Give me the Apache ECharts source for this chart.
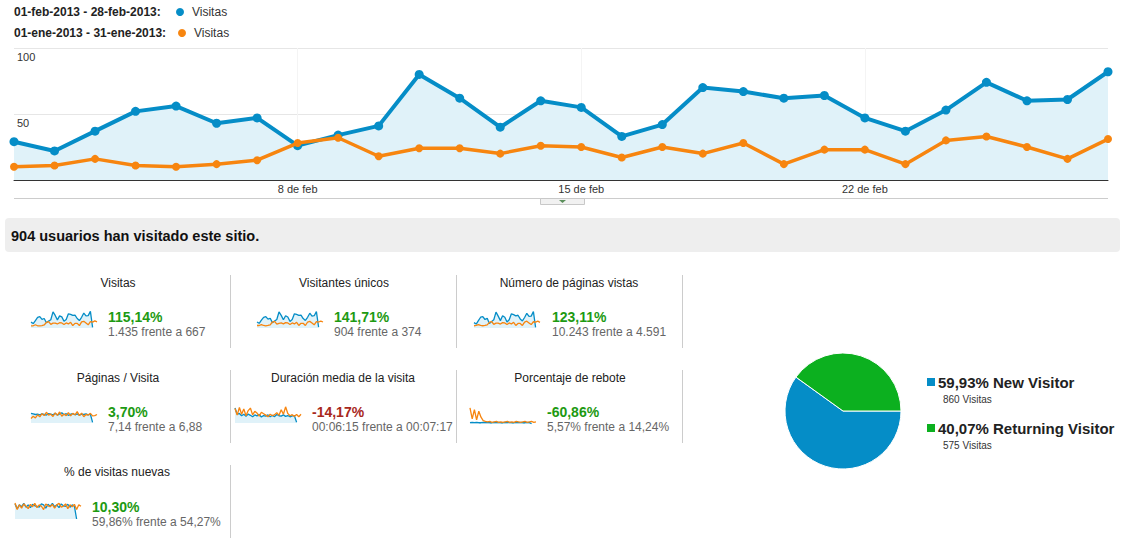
<!DOCTYPE html>
<html><head><meta charset="utf-8">
<script src="https://cdn.jsdelivr.net/npm/echarts@6/dist/echarts.min.js"></script>
<style>html,body{margin:0;padding:0;background:#fff}#c{width:1125px;height:559px}</style>
</head><body><div id="c"></div>
<script>
// ---------- DATA ----------
const days = ['1 de feb','2 de feb','3 de feb','4 de feb','5 de feb','6 de feb','7 de feb','8 de feb','9 de feb','10 de feb','11 de feb','12 de feb','13 de feb','14 de feb','15 de feb','16 de feb','17 de feb','18 de feb','19 de feb','20 de feb','21 de feb','22 de feb','23 de feb','24 de feb','25 de feb','26 de feb','27 de feb','28 de feb'];
const tickDays = ['8 de feb','15 de feb','22 de feb'];
const febVisits = [29,22,37,52,56,43,47,26,34,41,80,62,40,60,55,33,42,70,67,62,64,47,37,53,74,60,61,82];
const janVisits = [10,11,16,11,10,12,15,28,32,18,24,24,20,26,25,17,25,20,28,12,23,23,12,30,33,25,16,31];
const yTicks = [0,50,100];

const legendFeb = '01-feb-2013 - 28-feb-2013:';
const legendJan = '01-ene-2013 - 31-ene-2013:';
const seriesName = 'Visitas';
const summaryText = '904 usuarios han visitado este sitio.';

const sparkDays = ['1','2','3','4','5','6','7','8','9','10','11','12','13','14','15','16','17','18','19','20','21','22','23','24','25','26','27','28','29','30','31'];
const sparkVisitasFeb = [29,22,37,52,56,43,47,26,34,41,80,62,40,60,55,33,42,70,67,62,64,47,37,53,74,60,61,82,3];
const sparkVisitasJan = [10,11,16,11,10,12,15,28,32,18,24,24,20,26,25,17,25,20,28,12,23,23,12,30,33,25,16,31,29,35,30];
const sparkUnicosFeb = [19,15,25,34,36,28,31,17,22,27,51,40,26,39,35,21,27,45,43,40,41,30,24,34,47,38,39,52,3];
const sparkUnicosJan = [8,8,11,8,7,8,10,19,21,12,15,16,13,17,16,11,16,13,18,8,15,15,8,19,21,16,10,20,19,22,19];
const sparkPaginasFeb = [190,140,260,380,400,300,340,160,230,290,560,420,260,430,380,210,290,500,470,430,450,320,250,370,520,410,420,580,20];
const sparkPaginasJan = [80,90,120,90,80,90,110,200,230,130,170,170,140,190,180,120,180,140,200,90,160,160,90,210,240,180,120,220,210,240,200];
const sparkPagVisFeb = [7.4,7.2,7.0,7.1,6.9,7.2,7.0,6.8,7.3,7.1,6.9,7.4,6.8,7.2,7.6,6.9,7.3,6.7,7.1,7.3,6.9,7.2,6.8,7.1,7.0,7.2,6.9,7.1,4.2];
const sparkPagVisJan = [5.6,6.4,5.8,6.9,6.2,7.3,6.6,7.8,6.8,7.1,6.3,7.6,6.7,7.9,6.4,7.2,6.6,7.7,6.5,7.4,6.9,8.0,6.6,7.5,6.2,7.0,6.8,7.4,6.5,6.6,7.0];
const sparkDuracionFeb = [720,420,460,350,420,330,430,370,300,390,340,420,290,360,330,390,300,370,310,410,350,330,390,320,360,300,340,350,40];
const sparkDuracionJan = [700,380,750,420,680,350,600,720,390,560,480,330,520,450,380,300,420,350,400,500,370,640,420,780,460,350,400,320,410,300,420];
const sparkReboteFeb = [3,4,3,4,3,3,4,3,4,3,3,4,3,4,3,3,4,3,4,3,3,4,3,4,3,3,4,3,1];
const sparkReboteJan = [38,12,34,10,30,16,8,6,5,6,4,5,6,4,5,4,5,6,4,5,4,6,5,4,5,6,4,5,6,4,5];
const sparkNuevasFeb = [62,52,60,56,63,55,60,54,61,58,57,55,62,60,53,61,57,63,56,60,54,62,58,57,61,55,60,57,30];
const sparkNuevasJan = [64,50,60,53,62,57,52,61,56,63,54,60,57,50,62,58,56,61,53,60,63,55,57,62,52,60,56,61,50,60,57];

const metricTitles = ['Visitas','Visitantes únicos','Número de páginas vistas','Páginas / Visita','Duración media de la visita','Porcentaje de rebote','% de visitas nuevas'];
const metricChanges = ['115,14%','141,71%','123,11%','3,70%','-14,17%','-60,86%','10,30%'];
const metricCompare = ['1.435 frente a 667','904 frente a 374','10.243 frente a 4.591','7,14 frente a 6,88','00:06:15 frente a 00:07:17','5,57% frente a 14,24%','59,86% frente a 54,27%'];
const metricGood = [true,true,true,true,false,true,true];

const pieNames = ['New Visitor','Returning Visitor'];
const pieValues = [860,575];
const piePercents = ['59,93%','40,07%'];
const pieVisits = ['860 Visitas','575 Visitas'];

// ---------- STYLE / LAYOUT ----------
const FONT = "'Liberation Sans', Arial, sans-serif";
const BLUE = '#058dc7', ORANGE = '#f7850f', FILL = '#e0f2f9';
const PIE_COLORS = ['#058dc7','#0cb01f'];

const sparkPairs = [
  [sparkVisitasFeb, sparkVisitasJan, 0, 84],
  [sparkUnicosFeb, sparkUnicosJan, 0, 54],
  [sparkPaginasFeb, sparkPaginasJan, 0, 600],
  [sparkPagVisFeb, sparkPagVisJan, 4, 10],
  [sparkDuracionFeb, sparkDuracionJan, 0, 820],
  [sparkReboteFeb, sparkReboteJan, 0, 40],
  [sparkNuevasFeb, sparkNuevasJan, 30, 66]
];
const cellTitleX = [118,344,569,118,343,570,117];
const cellTitleY = [283,283,283,378,378,378,472];
const sparkLeft = [31,257,474,31,235,470,15];
const sparkTop = [311,311,311,406,406,407,502];
const valueX = [108,334,552,108,312,547,92];
const valueY = [317,317,317,412,412,412,507];

const grids = [{left:14, right:17, top:48, height:132}];
const xAxes = [{
  type:'category', data:days, boundaryGap:false, gridIndex:0,
  axisLine:{lineStyle:{color:'#333',width:1}}, axisTick:{show:false},
  axisLabel:{interval:(i,v)=>tickDays.includes(v), color:'#333', fontSize:11, fontFamily:FONT, margin:3},
  splitLine:{show:true, interval:(i,v)=>tickDays.includes(v), lineStyle:{color:'#f4f4f4'}}
}];
const yAxes = [{
  type:'value', gridIndex:0, min:yTicks[0], max:yTicks[2], interval:yTicks[1],
  axisLine:{show:false}, axisTick:{show:false},
  axisLabel:{inside:true, verticalAlign:'top', margin:3, padding:[3,0,0,0], color:'#333', fontSize:11, fontFamily:FONT, formatter:v=>v===0?'':String(v)},
  splitLine:{lineStyle:{color:'#e6e6e6'}}
}];
const series = [
  {type:'line', name:seriesName, xAxisIndex:0, yAxisIndex:0, data:febVisits, symbol:'circle', symbolSize:9, showSymbol:true,
   lineStyle:{color:BLUE,width:4}, itemStyle:{color:BLUE}, areaStyle:{color:FILL, opacity:1}, z:2},
  {type:'line', name:seriesName+' ', xAxisIndex:0, yAxisIndex:0, data:janVisits, symbol:'circle', symbolSize:8, showSymbol:true,
   lineStyle:{color:ORANGE,width:3.5}, itemStyle:{color:ORANGE}, z:3}
];

sparkPairs.forEach((p,i)=>{
  const gi = i+1;
  grids.push({left:sparkLeft[i], top:sparkTop[i], width:66, height:17});
  xAxes.push({type:'category', data:sparkDays, boundaryGap:false, gridIndex:gi, show:false});
  yAxes.push({type:'value', gridIndex:gi, min:p[2], max:p[3], show:false, splitLine:{show:false}});
  series.push({type:'line', xAxisIndex:gi, yAxisIndex:gi, data:p[0], symbol:'none', lineStyle:{color:BLUE,width:1.3}, areaStyle:{color:FILL,opacity:1}, z:2});
  series.push({type:'line', xAxisIndex:gi, yAxisIndex:gi, data:p[1], symbol:'none', lineStyle:{color:ORANGE,width:1.3}, z:3});
});

series.push({
  type:'pie', center:[843,411], radius:58, startAngle:0, clockwise:true,
  label:{show:false}, labelLine:{show:false}, silent:true,
  itemStyle:{borderColor:'#fff', borderWidth:1},
  data: pieNames.map((n,i)=>({name:n, value:pieValues[i], itemStyle:{color:PIE_COLORS[i]}}))
});

// ---------- GRAPHICS (texts, separators) ----------
const g = [];
function txt(x,y,text,font,fill,align){ g.push({type:'text', x, y, style:{text, font, fill, align:align||'left', verticalAlign:'middle'}}); }
function line(x1,y1,x2,y2,stroke){ g.push({type:'line', shape:{x1,y1,x2,y2}, style:{stroke, lineWidth:1}}); }

txt(14,12,legendFeb,'bold 12px '+FONT,'#222');
g.push({type:'circle', shape:{cx:180,cy:12,r:4}, style:{fill:BLUE}});
txt(192,12,seriesName,'12px '+FONT,'#333');
txt(14,33,legendJan,'bold 12px '+FONT,'#222');
g.push({type:'circle', shape:{cx:182,cy:33,r:4}, style:{fill:ORANGE}});
txt(194,33,seriesName,'12px '+FONT,'#333');

line(14,198.5,1108,198.5,'#ccc');
g.push({type:'rect', shape:{x:540.5,y:198.5,width:44,height:6}, style:{fill:'#f1f1f1', stroke:'#c8c8c8', lineWidth:1}});
g.push({type:'polygon', shape:{points:[[559,200],[566,200],[562.5,203]]}, style:{fill:'#5b8f5b'}});

g.push({type:'rect', shape:{x:5,y:218,width:1115,height:34,r:4}, style:{fill:'#eeeeee'}});
txt(11,235.5,summaryText,'bold 14.5px '+FONT,'#111');

metricTitles.forEach((t,i)=>{
  txt(cellTitleX[i],cellTitleY[i],t,'12px '+FONT,'#222','center');
  txt(valueX[i],valueY[i],metricChanges[i],'bold 14px '+FONT, metricGood[i]?'#1d9a12':'#a8281c');
  txt(valueX[i],valueY[i]+15,metricCompare[i],'12px '+FONT,'#666');
});
[[230,275,348],[456,275,348],[682,275,348],[230,370,443],[456,370,443],[682,370,443],[230,465,538]].forEach(s=>line(s[0]+0.5,s[1],s[0]+0.5,s[2],'#cccccc'));

pieNames.forEach((n,i)=>{
  const y = i===0?382:428;
  g.push({type:'rect', shape:{x:927,y:y-4,width:8,height:8}, style:{fill:PIE_COLORS[i]}});
  txt(938,y,piePercents[i]+' '+n,'bold 15px '+FONT,'#222');
  txt(943,y+17.5,pieVisits[i],'10px '+FONT,'#333');
});

const chart = echarts.init(document.getElementById('c'), null, {renderer:'svg', width:1125, height:559});
chart.setOption({
  animation:false,
  textStyle:{fontFamily:FONT},
  grid:grids, xAxis:xAxes, yAxis:yAxes, series:series, graphic:g
});
</script></body></html>
